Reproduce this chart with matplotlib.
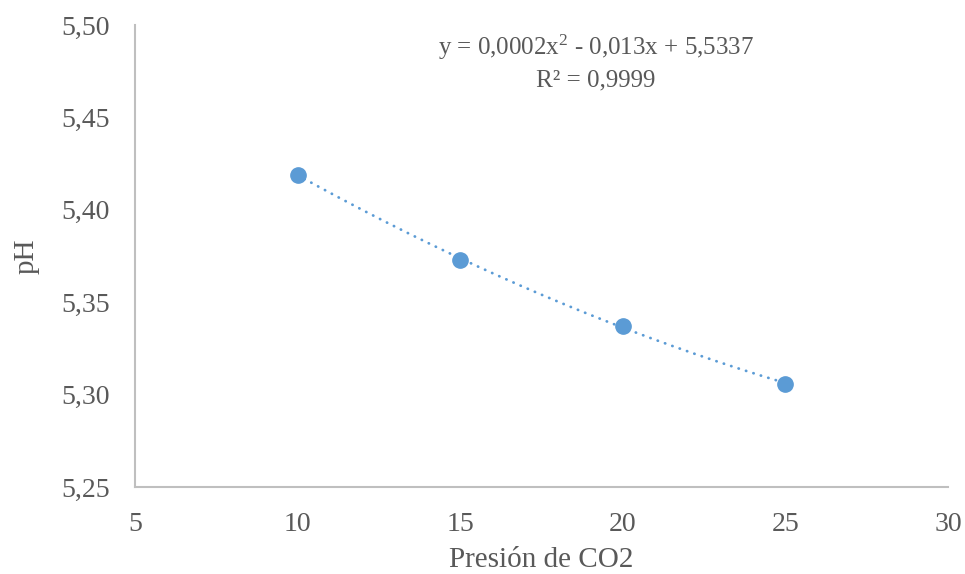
import matplotlib
matplotlib.use("Agg")
import matplotlib.pyplot as plt
from matplotlib.ticker import FuncFormatter
import numpy as np

# data
presion = [10, 15, 20, 25]
ph = [5.419, 5.373, 5.337, 5.306]
eq_text = "y = 0,0002x$^{2}$ - 0,013x + 5,5337"
r2_text = "R² = 0,9999"

plt.rcParams['font.family'] = ['Liberation Serif', 'DejaVu Serif']
plt.rcParams['mathtext.fontset'] = 'custom'
plt.rcParams['mathtext.rm'] = 'Liberation Serif'
plt.rcParams['mathtext.it'] = 'Liberation Serif'
plt.rcParams['mathtext.default'] = 'rm'

grey_txt = "#595959"
blue = "#5B9BD5"
spine_col = "#BFBFBF"

fig = plt.figure(figsize=(9.65, 5.74), dpi=100)
ax = fig.add_axes([0.1399, 0.1516, 0.9824 - 0.1399, 0.9564 - 0.1516])

# polynomial trend line (order 2), dotted
coef = np.polyfit(presion, ph, 2)
xs = np.linspace(min(presion), max(presion), 200)
ax.plot(xs, np.polyval(coef, xs), color=blue, lw=2.0, linestyle=(0, (0.1, 2.7)),
        dash_capstyle='round', zorder=2)
ax.plot(presion, ph, 'o', color=blue, markersize=11, zorder=3)

ax.set_xlim(5, 30)
ax.set_ylim(5.25, 5.50)
ax.set_xticks(np.arange(5, 31, 5))
ax.set_yticks(np.arange(5.25, 5.501, 0.05))
ax.yaxis.set_major_formatter(FuncFormatter(lambda v, p: "{:.2f}".format(v).replace(".", ",")))

for s in ["top", "right"]:
    ax.spines[s].set_visible(False)
for s in ["left", "bottom"]:
    ax.spines[s].set_color(spine_col)
    ax.spines[s].set_linewidth(1.5)

ax.tick_params(axis='both', length=0, labelsize=20, labelcolor=grey_txt)
ax.tick_params(axis='y', pad=18)
ax.tick_params(axis='x', pad=18)

ax.set_xlabel("Presión de CO2", fontsize=21, color=grey_txt, labelpad=7)
ax.set_ylabel("pH", fontsize=21, color=grey_txt, labelpad=16)

fig.text(596 / 965, 1 - 47 / 574, eq_text, fontsize=18, color=grey_txt,
         ha='center', va='center')
fig.text(596 / 965, 1 - 80 / 574, r2_text, fontsize=18, color=grey_txt,
         ha='center', va='center')

fig.savefig("out.png", dpi=100)
